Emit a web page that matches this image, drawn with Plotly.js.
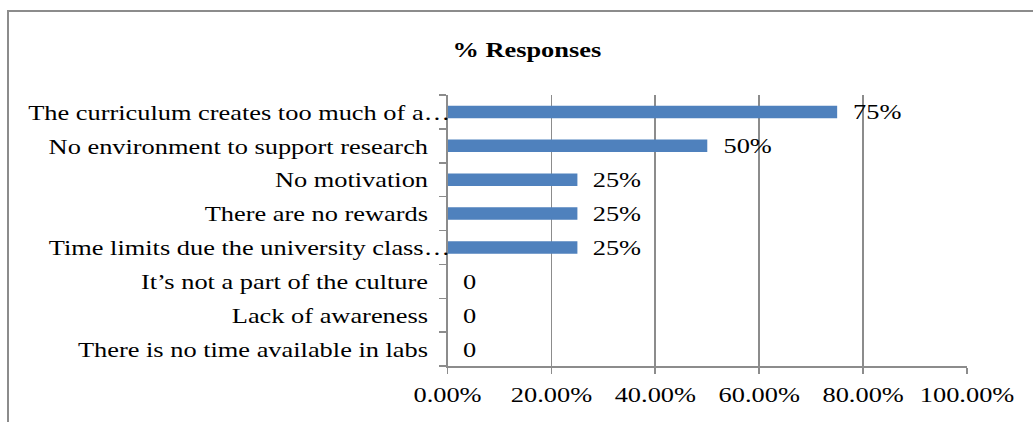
<!DOCTYPE html>
<html>
<head>
<meta charset="utf-8">
<script src="https://cdn.plot.ly/plotly-3.0.1.min.js"></script>
<style>
  html, body { margin: 0; padding: 0; background: #fff; overflow: hidden; }
  #frame { position: absolute; left: 7px; top: 10px; width: 1100px; height: 500px;
           border-left: 2px solid #8c8c8c; border-top: 2px solid #8c8c8c; }
  #chart { position: absolute; left: 0; top: 0; width: 861px; height: 422px;
           transform: scaleX(1.1998); transform-origin: 0 0; }
</style>
</head>
<body>
<div id="frame"></div>
<div id="chart"></div>
<script>
// Data
const categories = [
  "The curriculum creates too much of a\u2026",
  "No environment to support research",
  "No motivation",
  "There are no rewards",
  "Time limits due the university class\u2026",
  "It\u2019s not a part of the culture",
  "Lack of awareness",
  "There is no time available in labs"
];
const values = [0.75, 0.50, 0.25, 0.25, 0.25, 0, 0, 0];
const valueLabels = ["75%", "50%", "25%", "25%", "25%", "0", "0", "0"];
const xTickValues = [0, 0.2, 0.4, 0.6, 0.8, 1.0];
const chartTitle = "% Responses";

const FONT = "Liberation Serif";
const FS = 22;
const GRID = "#8c8c8c";
const PAD = "\u00a0\u00a0\u00a0\u200a";

const tickText = categories.map(c => c.endsWith("\u2026") ? c : c + PAD);

const trace = {
  type: "bar",
  orientation: "h",
  x: values,
  y: categories,
  marker: { color: "#4f81bd" },
  hoverinfo: "none"
};

const annotations = categories.map((c, i) => ({
  x: values[i], y: c, xref: "x", yref: "y",
  text: valueLabels[i], showarrow: false,
  xanchor: "left", yanchor: "middle", xshift: 11,
  font: { family: FONT, size: FS, color: "#000" }
}));

const layout = {
  width: 861, height: 422,
  margin: { l: 372.5, r: 55.2, t: 95, b: 56 },
  paper_bgcolor: "rgba(0,0,0,0)",
  plot_bgcolor: "rgba(0,0,0,0)",
  showlegend: false,
  bargap: 0.63,
  title: {
    text: "<b>" + chartTitle + "</b>",
    font: { family: FONT, size: FS, color: "#000" },
    x: 0.51, xref: "container", xanchor: "center",
    y: 0.884, yref: "container", yanchor: "middle"
  },
  xaxis: {
    range: [0, 1],
    tickvals: xTickValues,
    tickformat: ".2%",
    showgrid: true, gridcolor: GRID, gridwidth: 1.5,
    zeroline: false,
    showline: true, linecolor: GRID, linewidth: 2,
    ticks: "outside", ticklen: 6, tickwidth: 1.5, tickcolor: GRID,
    ticklabelstandoff: 2,
    tickfont: { family: FONT, size: FS, color: "#000" },
    fixedrange: true
  },
  yaxis: {
    type: "category",
    categoryorder: "array", categoryarray: categories,
    tickvals: categories, ticktext: tickText,
    autorange: "reversed",
    showgrid: false, zeroline: false,
    showline: true, linecolor: GRID, linewidth: 1.5,
    ticks: "outside", tickson: "boundaries", ticklen: 6, tickwidth: 1.5, tickcolor: GRID,
    ticklabelstandoff: -8,
    tickfont: { family: FONT, size: FS, color: "#000" },
    fixedrange: true
  },
  annotations: annotations,
  font: { family: FONT }
};

Plotly.newPlot("chart", [trace], layout, { displayModeBar: false, staticPlot: true });
</script>
</body>
</html>
